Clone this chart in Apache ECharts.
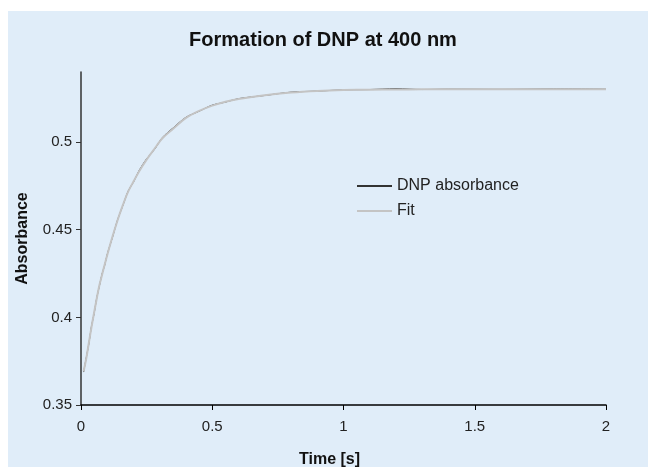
<!DOCTYPE html>
<html>
<head>
<meta charset="utf-8">
<script src="https://cdn.jsdelivr.net/npm/echarts@6/dist/echarts.min.js"></script>
<style>
  html, body { margin: 0; padding: 0; background: #fff; }
  #main { width: 648px; height: 467px; }
</style>
</head>
<body>
<div id="main"></div>
<script>
// time points [s]
var time = [0.01, 0.02, 0.03, 0.04, 0.05, 0.06, 0.07, 0.08, 0.09, 0.1,
  0.12, 0.14, 0.16, 0.18, 0.2, 0.22, 0.25, 0.28, 0.31, 0.35,
  0.4, 0.45, 0.5, 0.55, 0.6, 0.7, 0.8, 0.9, 1.0, 1.1,
  1.2, 1.3, 1.4, 1.6, 1.8, 2.0];
// measured absorbance
var dnpAbs = [0.3688, 0.3770, 0.3850, 0.3950, 0.4022, 0.4112, 0.4178, 0.4247, 0.4296, 0.4360,
  0.4457, 0.4560, 0.4640, 0.4722, 0.4772, 0.4834, 0.4905, 0.4958, 0.5026, 0.5080,
  0.5142, 0.5176, 0.5211, 0.5228, 0.5248, 0.5266, 0.5285, 0.5291, 0.5298, 0.5300,
  0.5305, 0.5300, 0.5302, 0.5301, 0.5303, 0.5302];
// fitted curve
var fitAbs = [0.3692, 0.3765, 0.3855, 0.3945, 0.4028, 0.4108, 0.4183, 0.4242, 0.4300, 0.4356,
  0.4461, 0.4557, 0.4643, 0.4719, 0.4775, 0.4830, 0.4900, 0.4962, 0.5022, 0.5075,
  0.5138, 0.5178, 0.5208, 0.5230, 0.5246, 0.5268, 0.5283, 0.5292, 0.5297, 0.5299,
  0.5300, 0.5301, 0.5301, 0.5302, 0.5302, 0.5302];
var xTicks = [0, 0.5, 1, 1.5, 2];
var yTicks = [0.35, 0.4, 0.45, 0.5];

function pairs(xs, ys) {
  return xs.map(function (x, i) { return [x, ys[i]]; });
}

var chart = echarts.init(document.getElementById('main'), null, { renderer: 'canvas' });
var font = 'Liberation Sans, Arial, sans-serif';

var option = {
  animation: false,
  backgroundColor: '#ffffff',
  textStyle: { fontFamily: font },
  graphic: [{
    type: 'rect', z: -10, silent: true,
    shape: { x: 8, y: 11, width: 640, height: 456 },
    style: { fill: '#e0edf9' }
  }],
  title: {
    text: 'Formation of DNP at 400 nm',
    left: 318, top: 25, textAlign: 'center',
    textStyle: { fontFamily: font, fontSize: 20, fontWeight: 'bold', color: '#111' }
  },
  legend: {
    orient: 'vertical',
    left: 357, top: 178, padding: 0,
    itemWidth: 35, itemHeight: 2, itemGap: 9,
    icon: 'rect',
    textStyle: { fontFamily: font, fontSize: 16, color: '#222' },
    data: ['DNP absorbance', 'Fit']
  },
  grid: { left: 81, right: 42, top: 72, bottom: 62, outerBoundsMode: 'none', containLabel: false },
  xAxis: {
    type: 'value', min: 0, max: 2, interval: 0.5,
    name: 'Time [s]', nameLocation: 'middle', nameGap: 47,
    nameTextStyle: { fontFamily: font, fontSize: 16, fontWeight: 'bold', color: '#111', padding: [0, 28, 0, 0] },
    axisLine: { lineStyle: { color: '#000', width: 1.5 } },
    axisTick: { show: true, length: 5, lineStyle: { color: '#000' } },
    axisLabel: { fontFamily: font, fontSize: 15, color: '#222', margin: 14, customValues: xTicks },
    splitLine: { show: false }
  },
  yAxis: {
    type: 'value', min: 0.35, max: 0.54,
    name: 'Absorbance', nameLocation: 'middle', nameGap: 50,
    nameTextStyle: { fontFamily: font, fontSize: 16, fontWeight: 'bold', color: '#111' },
    axisLine: { show: true, lineStyle: { color: '#333', width: 1.5 } },
    axisTick: { show: true, length: 5, lineStyle: { color: '#333' }, customValues: yTicks },
    axisLabel: { fontFamily: font, fontSize: 15, color: '#222', margin: 9, customValues: yTicks },
    splitLine: { show: false }
  },
  series: [{
    name: 'DNP absorbance',
    type: 'line',
    data: pairs(time, dnpAbs),
    smooth: 0.3,
    showSymbol: false,
    color: '#333',
    lineStyle: { color: '#333', width: 1 },
    z: 2
  }, {
    name: 'Fit',
    type: 'line',
    data: pairs(time, fitAbs),
    smooth: 0.3,
    showSymbol: false,
    color: '#c4c4c4',
    lineStyle: { color: '#c4c4c4', width: 2 },
    z: 3
  }]
};

chart.setOption(option);
</script>
</body>
</html>
